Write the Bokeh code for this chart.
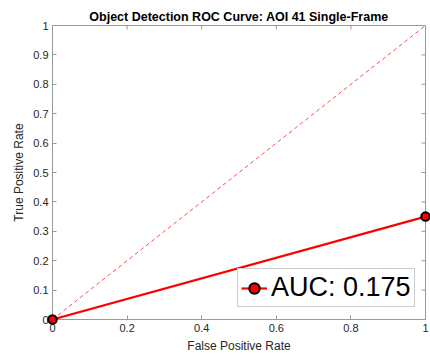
import math
from bokeh.plotting import figure
from bokeh.models import Range1d, FixedTicker, Legend, LegendItem
from bokeh.embed import file_html
from bokeh.resources import INLINE

# ROC points (false positive rate, true positive rate)
fpr = [0.0, 1.0]
tpr = [0.0, 0.35]
auc_label = "AUC: 0.175"

# chance diagonal
chance_x = [0.0, 1.0]
chance_y = [0.0, 1.0]

x_ticks = [0, 0.2, 0.4, 0.6, 0.8, 1]
y_ticks = [0, 0.1, 0.2, 0.3, 0.4, 0.5, 0.6, 0.7, 0.8, 0.9, 1]

FONT = "Liberation Sans"
AXIS_COLOR = "#999999"
TEXT_COLOR = "#262626"
TICK_LEN = 4

p = figure(width=430, height=360, output_backend="svg", toolbar_location=None,
           x_range=Range1d(0, 1), y_range=Range1d(0, 1),
           min_border_left=52, min_border_right=5, min_border_top=25, min_border_bottom=41,
           title="Object Detection ROC Curve: AOI 41 Single-Frame")

p.title.align = "center"
p.title.text_font = FONT
p.title.text_font_size = "12.5px"
p.title.text_font_style = "bold"
p.title.text_color = "#000000"
p.title.standoff = 3

p.grid.visible = False
p.outline_line_color = AXIS_COLOR
p.outline_line_width = 1
p.background_fill_color = "white"
p.border_fill_color = "white"

def style_axis(ax, ticks):
    ax.ticker = FixedTicker(ticks=ticks)
    ax.major_tick_in = TICK_LEN
    ax.major_tick_out = 0
    ax.minor_tick_in = 0
    ax.minor_tick_out = 0
    ax.axis_line_color = AXIS_COLOR
    ax.major_tick_line_color = AXIS_COLOR
    ax.major_label_text_font = FONT
    ax.major_label_text_font_size = "11px"
    ax.major_label_text_color = TEXT_COLOR
    ax.major_label_standoff = 4
    ax.axis_label_text_font = FONT
    ax.axis_label_text_font_size = "12px"
    ax.axis_label_text_font_style = "normal"
    ax.axis_label_text_color = TEXT_COLOR
    ax.axis_label_standoff = 4

style_axis(p.xaxis[0], x_ticks)
style_axis(p.yaxis[0], y_ticks)
p.xaxis[0].axis_label = "False Positive Rate"
p.yaxis[0].axis_label = "True Positive Rate"
p.xaxis[0].major_label_overrides = {0: "0", 1: "1"}
p.yaxis[0].major_label_overrides = {0: "0", 1: "1"}

# inward tick marks along the top and right edges of the box
p.ray(x=x_ticks, y=[1] * len(x_ticks), length=TICK_LEN, length_units="screen",
      angle=-math.pi / 2, line_color=AXIS_COLOR, line_width=1)
p.ray(x=[1] * len(y_ticks), y=y_ticks, length=TICK_LEN, length_units="screen",
      angle=math.pi, line_color=AXIS_COLOR, line_width=1)

# chance line
p.line(chance_x, chance_y, line_color="#ff0000", line_width=0.7, line_dash="4 3")

# ROC curve
roc_line = p.line(fpr, tpr, line_color="#ff0000", line_width=2.2)
roc_pts = p.scatter(fpr, tpr, marker="circle", size=8.5, fill_color="#ff0000",
                    line_color="#000000", line_width=2, level="overlay")

legend = Legend(items=[LegendItem(label=auc_label, renderers=[roc_line, roc_pts])],
                location=(185, 12))
legend.label_text_font = FONT
legend.label_text_font_size = "27px"
legend.label_text_color = "#000000"
legend.border_line_color = AXIS_COLOR
legend.border_line_width = 1
legend.background_fill_color = "white"
legend.background_fill_alpha = 1
legend.glyph_width = 26
legend.glyph_height = 30
legend.label_standoff = 4
legend.padding = 3
legend.margin = 0
legend.spacing = 0
p.add_layout(legend, "center")

open("out.html", "w").write(file_html(p, INLINE))
